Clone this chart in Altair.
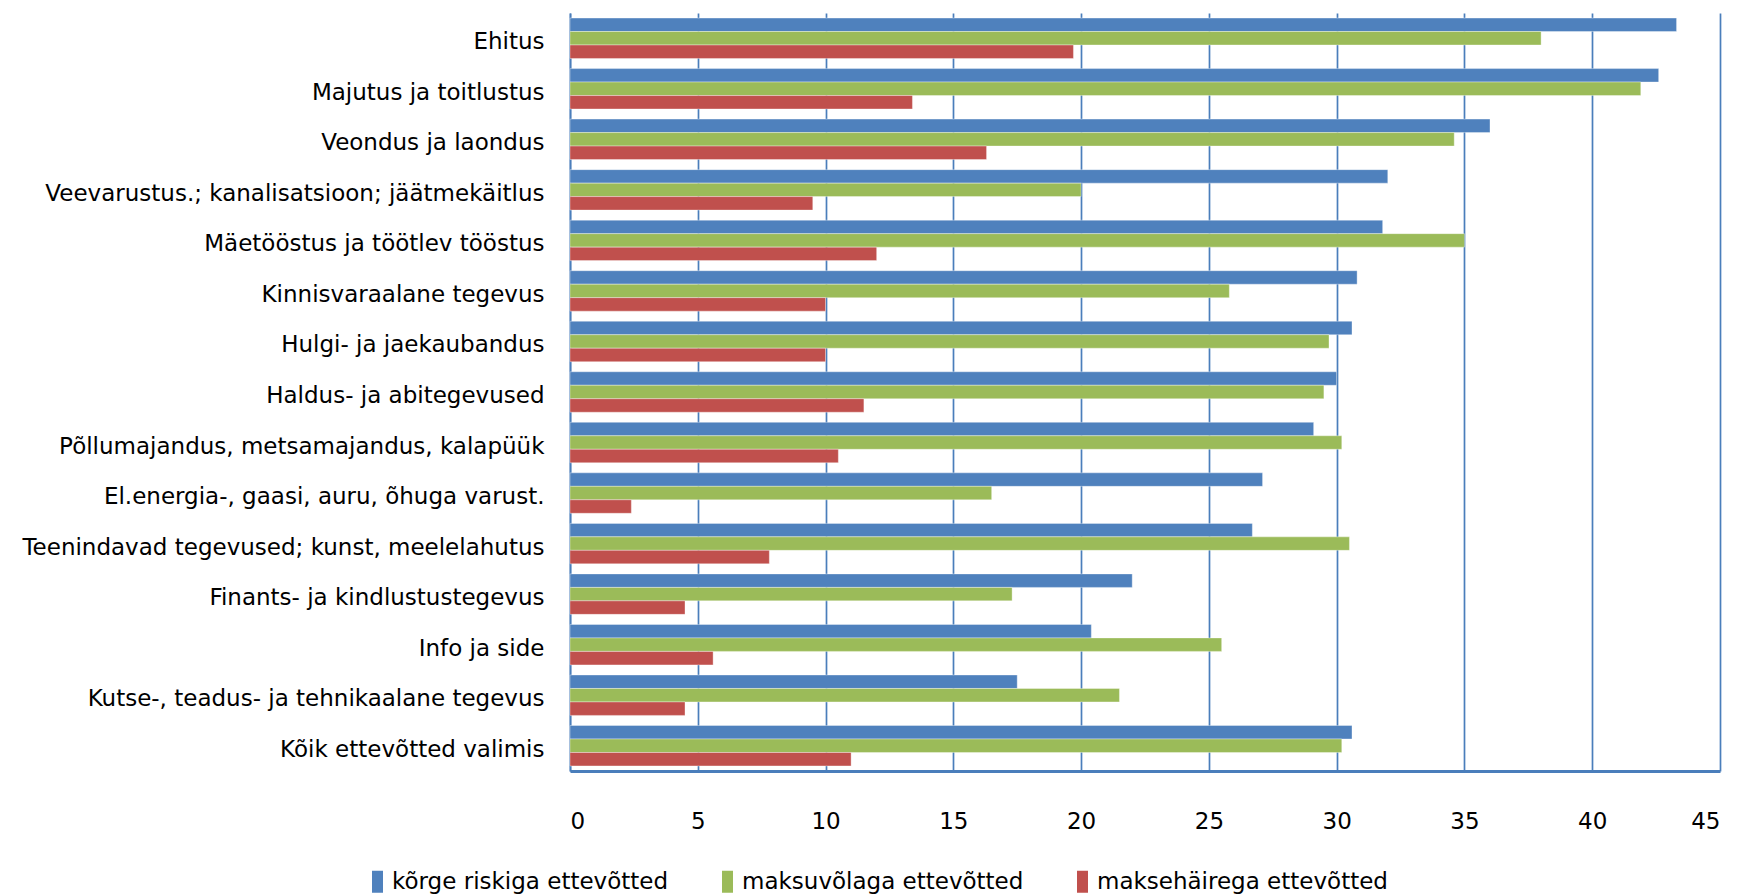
import altair as alt
import pandas as pd

categories = [
    "Ehitus",
    "Majutus ja toitlustus",
    "Veondus ja laondus",
    "Veevarustus.; kanalisatsioon; jäätmekäitlus",
    "Mäetööstus ja töötlev tööstus",
    "Kinnisvaraalane  tegevus",
    "Hulgi- ja jaekaubandus",
    "Haldus- ja abitegevused",
    "Põllumajandus, metsamajandus, kalapüük",
    "El.energia-, gaasi, auru, õhuga varust.",
    "Teenindavad  tegevused; kunst, meelelahutus",
    "Finants- ja kindlustustegevus",
    "Info ja side",
    "Kutse-, teadus- ja tehnikaalane  tegevus",
    "Kõik ettevõtted valimis",
]
series = ["kõrge riskiga ettevõtted", "maksuvõlaga ettevõtted", "maksehäirega  ettevõtted"]
high_risk = [43.3, 42.6, 36.0, 32.0, 31.8, 30.8, 30.6, 30.0, 29.1, 27.1, 26.7, 22.0, 20.4, 17.5, 30.6]
tax_debt = [38.0, 41.9, 34.6, 20.0, 35.0, 25.8, 29.7, 29.5, 30.2, 16.5, 30.5, 17.3, 25.5, 21.5, 30.2]
pay_default = [19.7, 13.4, 16.3, 9.5, 12.0, 10.0, 10.0, 11.5, 10.5, 2.4, 7.8, 4.5, 5.6, 4.5, 11.0]
colors = ["#4F81BD", "#9BBB59", "#C0504D"]
x_ticks = [0, 5, 10, 15, 20, 25, 30, 35, 40, 45]

rows = []
for vals, s in zip([high_risk, tax_debt, pay_default], series):
    for c, v in zip(categories, vals):
        rows.append({"cat": c, "series": s, "value": v})
df = pd.DataFrame(rows)

FONT = "DejaVu Sans"
GRID = "#4A7EBB"
FS = 23

chart = alt.Chart(df).mark_bar(stroke="#ffffff", strokeWidth=0.6, strokeOpacity=0.6).encode(
    y=alt.Y("cat:N", sort=categories, title=None,
            scale=alt.Scale(paddingInner=0.2, paddingOuter=0.1),
            axis=alt.Axis(domain=True, domainColor=GRID, domainWidth=1.7, ticks=False,
                          labelFontSize=FS, labelColor="#000000", labelPadding=26, labelOffset=4,
                          labelLimit=700, minExtent=562, maxExtent=562, grid=False)),
    yOffset=alt.YOffset("series:N", sort=series, scale=alt.Scale(paddingInner=0, paddingOuter=0)),
    x=alt.X("value:Q", title=None,
            scale=alt.Scale(domain=[0, 45], nice=False),
            axis=alt.Axis(values=x_ticks, grid=True, gridColor=GRID, gridWidth=1.7, gridOpacity=1,
                          domain=True, domainColor=GRID, domainWidth=3.2, ticks=False,
                          labelFontSize=FS, labelColor="#000000", labelPadding=39)),
    color=alt.Color("series:N", sort=series,
                    scale=alt.Scale(domain=series, range=colors),
                    legend=alt.Legend(orient="none", legendX=-204, legendY=857,
                                      direction="horizontal", title=None,
                                      labelFontSize=FS, labelColor="#000000", labelLimit=500,
                                      symbolType="M-0.5,-1L0.5,-1L0.5,1L-0.5,1Z",
                                      symbolSize=484, symbolStrokeWidth=0,
                                      columnPadding=47, labelOffset=3)),
).properties(
    width=1150, height=758,
    padding={"left": 0, "top": 5, "right": 10, "bottom": 5},
).configure(font=FONT).configure_view(stroke=None).configure_axis(labelFont=FONT).configure_legend(labelFont=FONT)

chart.save("out.html", embed_options={"renderer": "svg", "actions": False})
